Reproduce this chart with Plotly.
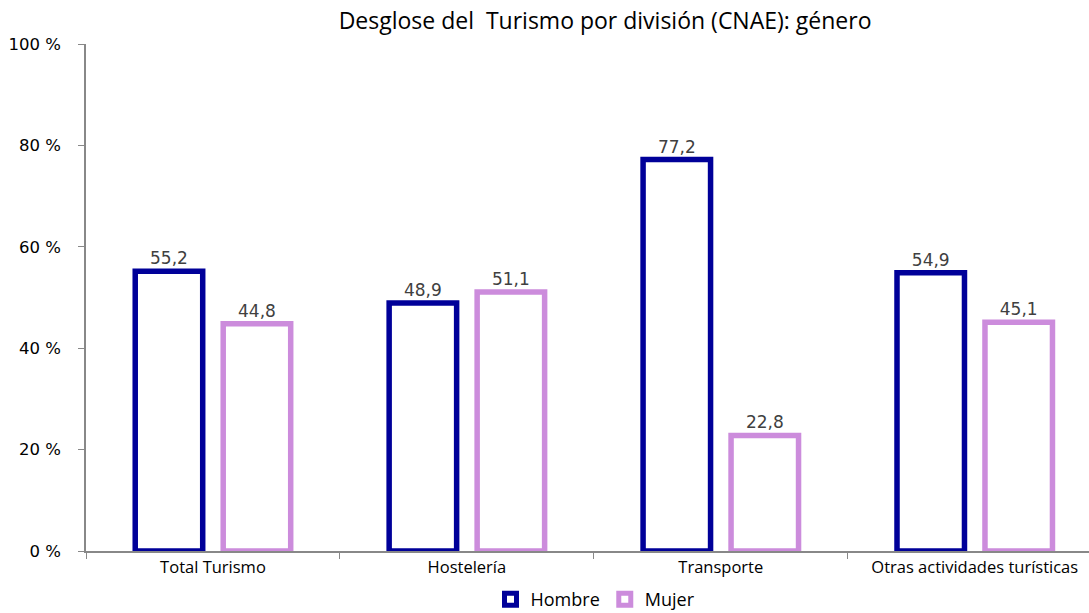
import plotly.graph_objects as go

categories = ["Total Turismo", "Hostelería", "Transporte", "Otras actividades turísticas"]
hombre = [55.2, 48.9, 77.2, 54.9]
mujer = [44.8, 51.1, 22.8, 45.1]
y_ticks = [0, 20, 40, 60, 80, 100]
y_tick_labels = ["0 %", "20 %", "40 %", "60 %", "80 %", "100 %"]

def fmt(v):
    return f"{v:.1f}".replace(".", ",")

fig = go.Figure()
fig.add_trace(go.Bar(
    x=categories, y=hombre, name="Hombre",
    marker=dict(color="white", line=dict(color="#000099", width=5.5)),
    text=[fmt(v) for v in hombre], textposition="outside",
    textfont=dict(family="DejaVu Sans", size=17, color="#404040"),
    cliponaxis=False,
))
fig.add_trace(go.Bar(
    x=categories, y=mujer, name="Mujer",
    marker=dict(color="white", line=dict(color="#CC8CDC", width=5.5)),
    text=[fmt(v) for v in mujer], textposition="outside",
    textfont=dict(family="DejaVu Sans", size=17, color="#404040"),
    cliponaxis=False,
))

fig.update_layout(
    width=1089, height=613,
    margin=dict(l=86, r=0, t=44, b=62, autoexpand=False),
    paper_bgcolor="white", plot_bgcolor="white",
    barmode="group", bargap=0.307, bargroupgap=0.233,
    title=dict(text="Desglose del  Turismo por división (CNAE): género",
               x=0.5556, xanchor="center", y=0.966, yanchor="middle",
               font=dict(family="Open Sans, sans-serif", size=23, color="black")),
    showlegend=True,
    legend=dict(orientation="h", x=0.508, xanchor="center",
                yref="container", y=0.022, yanchor="middle",
                font=dict(family="Open Sans, sans-serif", size=18, color="black"),
                itemwidth=30, tracegroupgap=0),
)
fig.update_xaxes(
    range=[-0.5, 3.45], showline=True, linecolor="#888888", linewidth=1.5,
    ticks="outside", tickson="boundaries", ticklen=6, tickcolor="#888888",
    showgrid=False, automargin=False,
    tickfont=dict(family="Open Sans, sans-serif", size=16.5, color="black"),
)
fig.update_yaxes(
    range=[0, 100], tickvals=y_ticks, ticktext=y_tick_labels,
    showline=True, linecolor="#888888", linewidth=1.5,
    ticks="outside", ticklen=6, tickcolor="#888888", showgrid=False, zeroline=False,
    automargin=False, ticklabelstandoff=14,
    tickfont=dict(family="DejaVu Sans", size=16.5, color="black"),
)

fig.write_html("out.html", config={"displayModeBar": False},
               post_script="document.body.style.margin='0';")
